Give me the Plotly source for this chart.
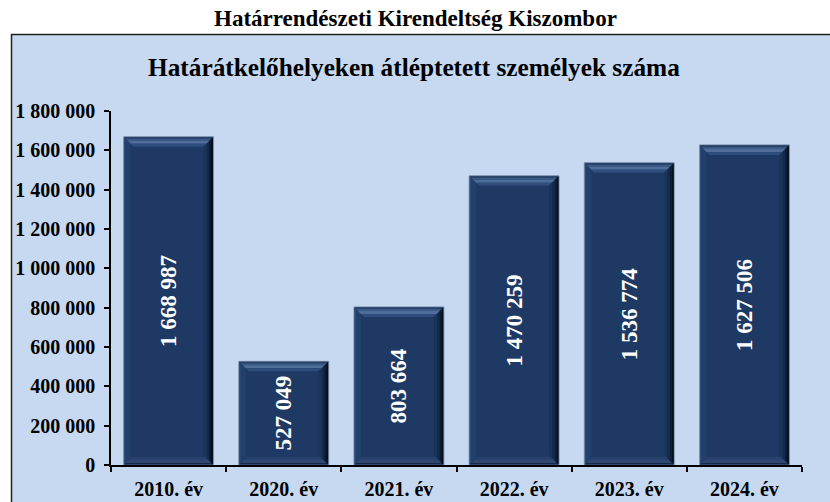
import plotly.graph_objects as go

categories = ["2010. év", "2020. év", "2021. év", "2022. év", "2023. év", "2024. év"]
values = [1668987, 527049, 803664, 1470259, 1536774, 1627506]
y_ticks = [0, 200000, 400000, 600000, 800000, 1000000, 1200000, 1400000, 1600000, 1800000]

outer_title = "Határrendészeti Kirendeltség Kiszombor"
inner_title = "Határátkelőhelyeken átléptetett személyek száma"

FONT = "Liberation Serif, Times New Roman, serif"
BAR = "#1e3a64"
BG = "#c6d9f1"
YMAX = 1800000
BARW = 0.78

L, R, T, B = 111, 28, 111, 37
W, H = 830, 502
pw, ph = W - L - R, H - T - B
xs = list(range(len(categories)))

fig = go.Figure()
fig.add_trace(go.Bar(
    x=xs, y=values,
    marker=dict(color=BAR, line=dict(color="#7c8fab", width=1)),
    width=BARW,
    texttemplate="%{y:,d}",
    textposition="inside",
    insidetextanchor="middle",
    textangle=-90,
    textfont=dict(family=FONT, size=23, color="white", weight="bold"),
    hoverinfo="skip",
))

# bevel decoration derived from bar geometry (bands given in px depth)
ux = len(categories) / pw      # data units per px (x)
uy = YMAX / ph                 # data units per px (y)
TOP_BANDS = [(0.5, 2, "#263f66"), (2, 4, "#3b5a86"), (4, 7, "#4e6d99"), (7, 10, "#2e4d7a")]
BOTTOM_BANDS = [(0.5, 2, "#17294a"), (2, 5, "#2f4871"), (5, 8, "#27416b")]
LEFT_BANDS = [(0.5, 2, "#2d4b79"), (2, 7, "#21406c")]
RIGHT_BANDS = [(0.5, 2.5, "#060e1a"), (2.5, 4.5, "#0d1b32"), (4.5, 7, "#142a4b"), (7, 10, "#1a3459")]


def band(side, x0, x1, v, d0, d1):
    a0x, a1x = d0 * ux, d1 * ux
    a0y, a1y = d0 * uy, d1 * uy
    if side == "top":
        pts = [(x0 + a0x, v - a0y), (x1 - a0x, v - a0y), (x1 - a1x, v - a1y), (x0 + a1x, v - a1y)]
    elif side == "bottom":
        pts = [(x0 + a0x, a0y), (x1 - a0x, a0y), (x1 - a1x, a1y), (x0 + a1x, a1y)]
    elif side == "left":
        pts = [(x0 + a0x, v - a0y), (x0 + a0x, a0y), (x0 + a1x, a1y), (x0 + a1x, v - a1y)]
    else:
        pts = [(x1 - a0x, v - a0y), (x1 - a0x, a0y), (x1 - a1x, a1y), (x1 - a1x, v - a1y)]
    return "M " + " L ".join(f"{px},{py}" for px, py in pts) + " Z"


for i, v in zip(xs, values):
    x0, x1 = i - BARW / 2, i + BARW / 2
    for side, bands in (("left", LEFT_BANDS), ("bottom", BOTTOM_BANDS),
                        ("top", TOP_BANDS), ("right", RIGHT_BANDS)):
        for d0, d1, col in bands:
            fig.add_shape(type="path", xref="x", yref="y", layer="above",
                          path=band(side, x0, x1, v, d0, d1),
                          fillcolor=col, line=dict(width=0))


def px_x(x):
    return (x - L) / pw


def px_y(y):
    return (H - B - y) / ph


fig.add_shape(type="rect", xref="paper", yref="paper",
              x0=px_x(11.5), x1=px_x(845), y0=px_y(34.5), y1=px_y(520),
              fillcolor=BG, line=dict(color="#222222", width=1.5), layer="below")

fig.add_annotation(text=outer_title, xref="paper", yref="paper",
                   x=px_x(415), y=px_y(18), showarrow=False,
                   font=dict(family=FONT, size=23, color="black", weight="bold"),
                   xanchor="center", yanchor="middle")
fig.add_annotation(text=inner_title, xref="paper", yref="paper",
                   x=px_x(414), y=px_y(67), showarrow=False,
                   font=dict(family=FONT, size=25.3, color="black", weight="bold"),
                   xanchor="center", yanchor="middle")

fig.update_layout(
    width=W, height=H,
    margin=dict(l=L, r=R, t=T, b=B, pad=0, autoexpand=False),
    paper_bgcolor="white",
    plot_bgcolor="rgba(0,0,0,0)",
    separators=", ",
    showlegend=False,
    font=dict(family=FONT, color="black"),
)
fig.update_yaxes(
    range=[0, YMAX], tickvals=y_ticks, tickformat=",d",
    automargin=False,
    showgrid=False, zeroline=False,
    showline=True, linecolor="black", linewidth=1.5,
    ticks="outside", ticklen=5, tickcolor="black", tickwidth=1.5,
    tickfont=dict(family=FONT, size=20, color="black", weight="bold"),
    ticklabelstandoff=5,
)
fig.update_xaxes(
    range=[-0.5, len(categories) - 0.5],
    tickvals=xs, ticktext=categories, ticks="",
    automargin=False,
    minor=dict(ticks="outside", tick0=-0.5, dtick=1, ticklen=5,
               tickcolor="black", tickwidth=1.5, showgrid=False),
    showgrid=False, zeroline=False,
    showline=True, linecolor="black", linewidth=1.5,
    tickfont=dict(family=FONT, size=20, color="black", weight="bold"),
    ticklabelstandoff=5,
)

fig.write_html("out.html", config={"displayModeBar": False},
               post_script="document.body.style.margin='0px';")
